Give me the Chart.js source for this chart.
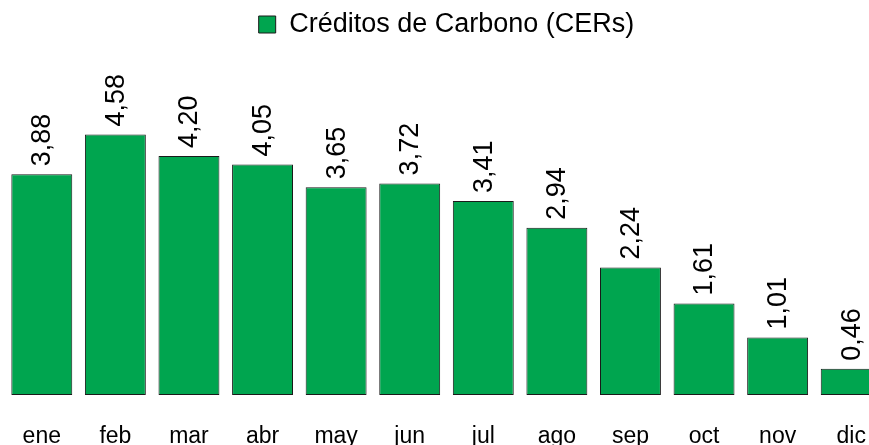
<!DOCTYPE html>
<html>
<head>
<meta charset="utf-8">
<script src="https://cdn.jsdelivr.net/npm/chart.js@4/dist/chart.umd.min.js"></script>
<style>
  html, body { margin: 0; padding: 0; background: #fff; overflow: hidden; }
  #wrap { width: 869px; height: 445px; overflow: hidden; }
</style>
</head>
<body>
<div id="wrap"><canvas id="grafico" width="900" height="445"></canvas></div>
<script>
// Créditos de carbono por mes
const meses = ['ene', 'feb', 'mar', 'abr', 'may', 'jun', 'jul', 'ago', 'sep', 'oct', 'nov', 'dic'];
const creditos = [3.88, 4.58, 4.20, 4.05, 3.65, 3.72, 3.41, 2.94, 2.24, 1.61, 1.01, 0.46];
const serieNombre = 'Créditos de Carbono (CERs)';

const fuente = "Arial, 'Liberation Sans', sans-serif";

// etiquetas de valor giradas encima de cada barra
const etiquetasValor = {
    id: 'etiquetasValor',
    afterDatasetsDraw(chart) {
        const ctx = chart.ctx;
        const meta = chart.getDatasetMeta(0);
        ctx.save();
        ctx.fillStyle = '#000';
        ctx.font = '27px ' + fuente;
        ctx.textAlign = 'left';
        ctx.textBaseline = 'middle';
        meta.data.forEach((bar, i) => {
            const txt = creditos[i].toFixed(2).replace('.', ',');
            ctx.save();
            ctx.translate(bar.x + 1, bar.y - 8);
            ctx.rotate(-Math.PI / 2);
            ctx.fillText(txt, 0, 0);
            ctx.restore();
        });
        ctx.restore();
    }
};

new Chart(document.getElementById('grafico').getContext('2d'), {
    type: 'bar',
    data: {
        labels: meses,
        datasets: [{
            label: serieNombre,
            data: creditos,
            backgroundColor: '#00a54f',
            borderColor: '#1a1a1a',
            borderWidth: 1,
            borderSkipped: false,
            barPercentage: 0.92,
            categoryPercentage: 0.9
        }]
    },
    options: {
        responsive: false,
        animation: false,
        layout: { padding: { left: 5, right: 12, top: 0, bottom: 0 } },
        scales: {
            x: {
                grid: { display: false, drawTicks: false },
                border: { display: false },
                ticks: {
                    color: '#000',
                    padding: 0,
                    // línea alta para bajar las etiquetas sin margen lateral extra
                    font: { family: fuente, size: 23, lineHeight: '84px' }
                },
                afterFit(scale) { scale.height = 50; }
            },
            y: {
                display: false,
                min: 0,
                max: 6.1
            }
        },
        plugins: {
            legend: {
                position: 'top',
                labels: {
                    color: '#000',
                    boxWidth: 17,
                    boxHeight: 17,
                    padding: 11,
                    font: { family: fuente, size: 27 }
                }
            },
            tooltip: { enabled: false }
        }
    },
    plugins: [etiquetasValor]
});
</script>
</body>
</html>
